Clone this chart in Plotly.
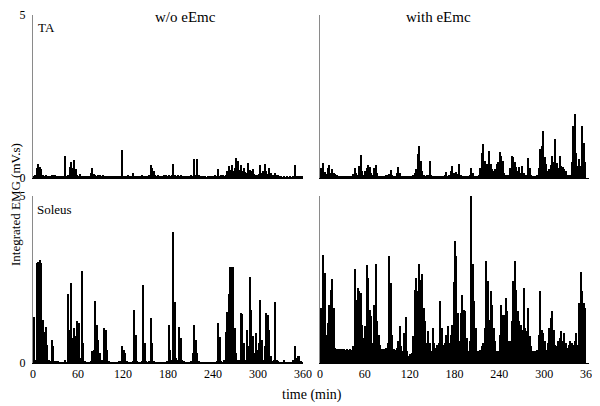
import plotly.graph_objects as go
from plotly.subplots import make_subplots

# integrated EMG, 2-min bins from 0 to 360 min (one row = one hour)
ta_wo = (
    [0.05, 0.08, 0.3, 0.44, 0.35, 0.28, 0.1, 0.05, 0.08, 0.06, 0.04, 0.04, 0.08, 0.1, 0.1,
     0.07, 0.04, 0.04, 0.04, 0.04, 0.04, 0.66, 0.05, 0.1, 0.35, 0.5, 0.3, 0.54, 0.28, 0.1]
    + [0.06, 0.12, 0.05, 0.04, 0.04, 0.05, 0.04, 0.04, 0.15, 0.32, 0.12, 0.1, 0.06, 0.1, 0.08,
       0.05, 0.1, 0.06, 0.04, 0.04, 0.06, 0.04, 0.04, 0.05, 0.04, 0.06, 0.04, 0.04, 0.05, 0.87]
    + [0.05, 0.06, 0.05, 0.1, 0.06, 0.05, 0.15, 0.06, 0.04, 0.05, 0.04, 0.04, 0.1, 0.05, 0.04,
       0.04, 0.05, 0.1, 0.4, 0.3, 0.2, 0.08, 0.06, 0.08, 0.05, 0.06, 0.05, 0.08, 0.1, 0.06]
    + [0.08, 0.05, 0.1, 0.42, 0.1, 0.06, 0.08, 0.05, 0.08, 0.06, 0.05, 0.04, 0.06, 0.05, 0.04,
       0.08, 0.06, 0.57, 0.1, 0.57, 0.1, 0.05, 0.04, 0.04, 0.04, 0.03, 0.04, 0.05, 0.04, 0.04]
    + [0.05, 0.08, 0.06, 0.27, 0.06, 0.08, 0.1, 0.06, 0.1, 0.2, 0.37, 0.25, 0.4, 0.22, 0.3,
       0.62, 0.52, 0.25, 0.4, 0.2, 0.32, 0.18, 0.15, 0.47, 0.25, 0.2, 0.27, 0.12, 0.1, 0.08]
    + [0.12, 0.4, 0.15, 0.2, 0.42, 0.2, 0.12, 0.3, 0.15, 0.1, 0.1, 0.15, 0.08, 0.1, 0.05,
       0.04, 0.03, 0.04, 0.03, 0.04, 0.03, 0.04, 0.03, 0.05, 0.4, 0.04, 0.04, 0.05, 0.04, 0.04]
)

ta_with = (
    [0.3, 0.2, 0.46, 0.18, 0.12, 0.3, 0.4, 0.15, 0.28, 0.15, 0.13, 0.08, 0.06, 0.05, 0.05,
     0.05, 0.04, 0.05, 0.04, 0.05, 0.05, 0.06, 0.12, 0.3, 0.15, 0.1, 0.38, 0.7, 0.2, 0.1]
    + [0.2, 0.3, 0.4, 0.35, 0.15, 0.08, 0.3, 0.4, 0.15, 0.06, 0.05, 0.05, 0.06, 0.05, 0.08,
       0.1, 0.13, 0.26, 0.1, 0.06, 0.05, 0.15, 0.33, 0.15, 0.06, 0.05, 0.04, 0.05, 0.04, 0.05]
    + [0.05, 0.04, 0.08, 0.15, 0.28, 0.73, 0.97, 0.53, 0.2, 0.08, 0.06, 0.1, 0.08, 0.53, 0.08,
       0.05, 0.04, 0.05, 0.04, 0.04, 0.05, 0.04, 0.05, 0.08, 0.18, 0.06, 0.1, 0.2, 0.38, 0.15]
    + [0.12, 0.18, 0.12, 0.43, 0.1, 0.06, 0.05, 0.05, 0.06, 0.05, 0.1, 0.3, 0.15, 0.06, 0.05,
       0.06, 0.08, 0.3, 0.78, 1.05, 0.53, 0.43, 0.43, 0.83, 0.43, 0.28, 0.2, 0.28, 0.43, 0.48]
    + [0.8, 0.68, 0.53, 0.15, 0.1, 0.1, 0.08, 0.3, 0.68, 0.63, 0.48, 0.33, 0.2, 0.33, 0.15,
       0.38, 0.15, 0.08, 0.1, 0.6, 0.3, 0.08, 0.06, 0.05, 0.06, 0.08, 0.3, 0.88, 0.98, 1.43]
    + [0.63, 0.43, 0.2, 0.28, 0.4, 0.68, 0.5, 1.2, 0.45, 0.3, 0.68, 0.38, 0.33, 0.28, 0.2,
       0.1, 0.08, 0.1, 0.5, 1.58, 1.97, 0.78, 0.38, 0.58, 0.38, 1.58, 1.08, 0.5, 0, 0]
)

sol_wo = (
    [1.39, 0.1, 2.98, 3.03, 3.08, 2.98, 1.29, 0.94, 1.09, 0.55, 0.08, 0.05, 0.69, 0.5, 0.05,
     0.05, 0.04, 0.03, 0.02, 0.02, 0.03, 0.1, 0.03, 2.08, 1.0, 2.4, 0.75, 1.04, 0.8, 1.27]
    + [1.19, 0.15, 2.76, 0.6, 0.05, 0.03, 0.02, 0.03, 0.05, 0.35, 0.4, 1.86, 1.14, 0.69, 0.3,
       0.08, 0.1, 1.04, 1.0, 0.4, 0.05, 0.03, 0.02, 0.02, 0.03, 0.02, 0.03, 0.04, 0.05, 0.5]
    + [0.38, 0.3, 0.05, 0.03, 0.02, 0.03, 0.05, 1.6, 0.84, 0.05, 0.03, 0.02, 0.05, 2.33, 0.6,
       0.05, 0.03, 0.05, 1.36, 0.6, 0.05, 0.03, 0.02, 0.02, 0.03, 0.02, 0.02, 0.03, 0.02, 0.05]
    + [1.14, 0.4, 0.1, 3.92, 1.84, 0.15, 0.1, 1.09, 0.74, 0.1, 0.04, 0.03, 0.02, 0.02, 0.03,
       0.05, 0.3, 1.14, 0.69, 0.3, 0.05, 0.03, 0.02, 0.02, 0.02, 0.03, 0.02, 0.02, 0.03, 0.02]
    + [0.02, 0.03, 0.05, 1.19, 0.79, 0.05, 0.03, 0.1, 0.94, 1.54, 2.08, 2.86, 2.86, 2.86, 1.04,
       0.3, 0.08, 0.1, 1.51, 1.47, 0.6, 0.1, 0.99, 0.5, 2.58, 1.59, 0.8, 0.3, 0.9, 0.4]
    + [0.6, 1.88, 0.69, 0.1, 0.5, 1.51, 1.44, 0.99, 0.2, 0.05, 0.1, 1.84, 0.1, 0.05, 0.03,
       0.02, 0.03, 0.1, 0.03, 0.02, 0.03, 0.02, 0.03, 0.1, 0.5, 0.15, 0.2, 0.2, 0.05, 0.03]
)

sol_with = (
    [1.65, 1.65, 3.22, 2.7, 0.85, 1.2, 1.75, 2.2, 2.52, 1.65, 0.45, 0.43, 0.42, 0.43, 0.42,
     0.41, 0.42, 0.4, 0.41, 0.4, 0.42, 0.4, 0.5, 2.8, 1.9, 2.25, 2.15, 2.1, 1.15, 0.75]
    + [1.1, 2.92, 2.55, 1.6, 1.4, 0.6, 1.75, 2.96, 1.25, 0.85, 0.55, 0.43, 0.42, 0.43, 0.45,
       0.6, 3.2, 2.4, 0.85, 0.42, 0.4, 0.45, 0.65, 1.1, 0.5, 0.35, 0.9, 1.37, 0.35, 0.2]
    + [0.27, 0.3, 0.8, 2.2, 2.55, 2.15, 2.95, 2.5, 2.65, 1.65, 1.25, 0.6, 0.95, 0.6, 0.35,
       1.05, 0.6, 0.45, 0.55, 0.6, 1.85, 1.05, 0.55, 0.6, 0.85, 1.1, 0.6, 0.85, 1.15, 2.43]
    + [3.65, 3.2, 1.5, 0.65, 1.5, 2.03, 1.6, 1.55, 0.75, 0.37, 0.65, 5.0, 2.95, 1.85, 1.05,
       0.37, 0.37, 0.38, 0.5, 0.6, 1.05, 3.05, 2.45, 1.3, 2.15, 1.75, 1.05, 0.65, 0.37, 0.37]
    + [0.85, 1.75, 1.45, 1.45, 1.95, 1.55, 0.65, 0.65, 1.25, 2.45, 3.06, 2.2, 1.55, 1.25, 1.15,
       1.0, 2.25, 1.05, 0.95, 1.65, 0.8, 0.5, 0.37, 0.36, 0.37, 0.38, 0.85, 2.15, 1.0, 0.9]
    + [0.65, 0.4, 0.6, 1.05, 1.35, 1.55, 1.0, 0.55, 0.5, 0.65, 0.75, 0.95, 0.65, 0.9, 0.6,
       0.45, 0.55, 0.65, 0.6, 0.55, 0.65, 0.9, 0.55, 1.8, 2.72, 2.15, 1.8, 1.65, 0, 0]
)

bin_width = 2
x_ticks = [0, 60, 120, 180, 240, 300, 360]
font = "Liberation Serif"

# the page body adds an 8px margin, so shrink the figure and shift coordinates
W, H, OFF = 592, 398, 8


def px(x):
    return (x - OFF) / W


def py(y):
    return 1 - (y - OFF) / H


def bin_centers(vals):
    return [bin_width * i + bin_width / 2 for i in range(len(vals))]


fig = make_subplots(rows=2, cols=2)
panels = [(ta_wo, 1, 1), (ta_with, 1, 2), (sol_wo, 2, 1), (sol_with, 2, 2)]
for vals, r, c in panels:
    fig.add_trace(go.Bar(
        x=bin_centers(vals), y=vals, width=bin_width,
        marker=dict(color="black", line=dict(width=0)),
        showlegend=False,
    ), row=r, col=c)

left = [px(33), px(303)]
right = [px(320), px(589)]
top = [py(178), py(15)]
bottom = [py(363), py(196)]

tickfont = dict(family=font, size=12, color="black")
xcommon = dict(range=[0, 360], showgrid=False, zeroline=False, showline=True,
               linecolor="black", linewidth=1, ticks="", tickvals=x_ticks,
               tickfont=tickfont, automargin=False, ticklabeloverflow="allow")
ycommon = dict(range=[0, 5], showgrid=False, zeroline=False, showline=True,
               linecolor="#8a8a8a", linewidth=1, automargin=False)
ylabelled = dict(tickvals=[0, 5], ticks="inside", ticklen=3, tickcolor="#8a8a8a",
                 tickfont=tickfont, ticklabelstandoff=4, ticklabeloverflow="allow")

fig.update_layout(
    xaxis=dict(xcommon, domain=left, showticklabels=False),
    xaxis2=dict(xcommon, domain=right, showticklabels=False),
    xaxis3=dict(xcommon, domain=left),
    xaxis4=dict(xcommon, domain=right),
    yaxis=dict(ycommon, domain=top, **ylabelled),
    yaxis2=dict(ycommon, domain=top, showticklabels=False),
    yaxis3=dict(ycommon, domain=bottom, **ylabelled),
    yaxis4=dict(ycommon, domain=bottom, showticklabels=False),
    bargap=0,
    width=W, height=H,
    margin=dict(l=0, r=0, t=0, b=0, autoexpand=False),
    plot_bgcolor="white", paper_bgcolor="white",
    font=dict(family=font, color="black"),
)

notes = [
    ("w/o eEmc", 185, 17, 15, "center"),
    ("with eEmc", 438, 17, 15, "center"),
    ("time (min)", 312, 395, 14, "center"),
    ("TA", 36, 27, 13, "left"),
    ("Soleus", 35, 209, 13, "left"),
]
for text, x, y, size, anchor in notes:
    fig.add_annotation(text=text, x=px(x), y=py(y), xref="paper", yref="paper",
                       xanchor=anchor, yanchor="middle", showarrow=False,
                       font=dict(family=font, size=size, color="black"))

fig.add_annotation(text="Integrated EMG (mV.s)", x=px(15), y=py(205),
                   xref="paper", yref="paper", xanchor="center", yanchor="middle",
                   textangle=-90, showarrow=False,
                   font=dict(family=font, size=13, color="black"))

fig.write_html("out.html")
